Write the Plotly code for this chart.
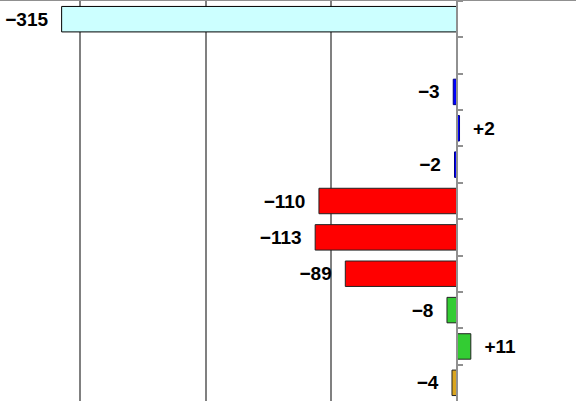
import plotly.graph_objects as go

categories = ["c1", "c2", "c3", "c4", "c5", "c6", "c7", "c8", "c9", "c10", "c11"]
values = [-315, None, -3, 2, -2, -110, -113, -89, -8, 11, -4]
colors = ["#CCFFFF", "#FFFFFF", "#0000FF", "#0000FF", "#0000FF", "#FF0000",
          "#FF0000", "#FF0000", "#33CC33", "#33CC33", "#DAA520"]
outline_colors = ["#000000", "#000000", "#000080", "#000080", "#000080", "#222222",
                  "#222222", "#222222", "#222222", "#222222", "#222222"]

PAD = "\u00a0\u00a0"


def fmt(v):
    if v is None:
        return ""
    if v < 0:
        return "\u2212" + str(abs(v)) + PAD
    return PAD + "+" + str(v)


texts = [fmt(v) for v in values]

x_min, x_max = -364.1, 94.8

fig = go.Figure(go.Bar(
    y=categories,
    x=values,
    orientation="h",
    width=0.7,
    marker=dict(color=colors, line=dict(color=outline_colors, width=1)),
    text=texts,
    textposition="outside",
    constraintext="none",
    cliponaxis=False,
    textfont=dict(family="Liberation Sans, Arial, sans-serif", size=19,
                  color="#000000", weight="bold"),
    hoverinfo="skip",
))

fig.update_layout(
    width=576,
    height=401,
    margin=dict(l=0, r=0, t=1, b=0),
    paper_bgcolor="#FFFFFF",
    plot_bgcolor="#FFFFFF",
    showlegend=False,
    xaxis=dict(
        range=[x_min, x_max],
        side="top",
        showline=True,
        linecolor="#909090",
        linewidth=2,
        showgrid=True,
        gridcolor="#808080",
        gridwidth=2,
        dtick=100,
        tick0=0,
        zeroline=False,
        showticklabels=False,
        ticks="",
    ),
    yaxis=dict(
        type="category",
        categoryorder="array",
        categoryarray=categories,
        autorange="reversed",
        anchor="free",
        position=(0 - x_min) / (x_max - x_min),
        side="right",
        showline=True,
        linecolor="#909090",
        linewidth=2,
        ticks="outside",
        ticklen=5,
        tickwidth=2,
        tickcolor="#909090",
        tickson="boundaries",
        showticklabels=False,
        showgrid=False,
        zeroline=False,
    ),
)

fig.write_html(
    "out.html",
    config={"displayModeBar": False, "staticPlot": True},
    post_script="document.body.style.margin='0';document.body.style.overflow='hidden';",
)
